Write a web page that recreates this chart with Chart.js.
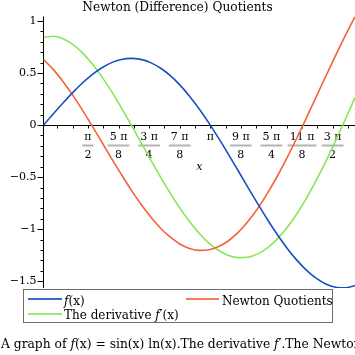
<!DOCTYPE html>
<html><head><meta charset="utf-8">
<script src="https://cdn.jsdelivr.net/npm/chart.js@4.4.0/dist/chart.umd.min.js"></script>
<style>
html,body{margin:0;padding:0;width:355px;height:355px;overflow:hidden;background:#fff;}
#wrap{position:relative;width:355px;height:355px;font-family:'DejaVu Serif',serif;color:#000;overflow:hidden;}
#c{position:absolute;left:0;top:0;}
#legendBox{position:absolute;left:23px;top:289px;width:310px;height:34px;box-sizing:border-box;border:1.5px solid #6e6e6e;}
.item{position:absolute;font-size:12px;line-height:14px;white-space:nowrap;}
.sw{position:absolute;height:2px;opacity:0.85;}
#caption{position:absolute;left:1px;top:337px;font-size:12.3px;line-height:14px;white-space:nowrap;}
</style></head>
<body><div id="wrap">
<canvas id="c" width="355" height="355"></canvas>
<div id="legendBox"></div>
<div class="sw" id="sw0" style="left:28px;top:298px;width:34px;"></div>
<div class="item" id="lb0" style="left:64px;top:294px;"><i>f</i>(x)</div>
<div class="sw" id="sw1" style="left:186px;top:298px;width:33px;"></div>
<div class="item" id="lb1" style="left:222px;top:294px;">Newton Quotients</div>
<div class="sw" id="sw2" style="left:28px;top:312.5px;width:34px;"></div>
<div class="item" id="lb2" style="left:64px;top:308px;">The derivative <i>f</i>′(x)</div>
<div id="caption">A graph of <i>f</i>(x) = sin(x) ln(x).The derivative <i>f</i>′.The Newton Quotients</div>
</div>
<script>
const xValues = [1,1.125,1.25,1.375,1.5,1.625,1.75,1.875,2,2.125,2.25,2.375,2.5,2.625,2.75,2.875,3,3.125,3.25,3.375,3.5,3.625,3.75,3.875,4,4.125,4.25,4.375,4.5,4.625,4.75,4.875,5];
const fValues = [0,0.106,0.212,0.312,0.404,0.485,0.551,0.600,0.630,0.641,0.631,0.600,0.548,0.477,0.386,0.278,0.155,0.019,-0.128,-0.281,-0.439,-0.599,-0.755,-0.907,-1.049,-1.180,-1.295,-1.393,-1.470,-1.526,-1.557,-1.563,-1.543];
const newtonValues = [0.630,0.535,0.419,0.288,0.144,-0.008,-0.165,-0.322,-0.475,-0.622,-0.758,-0.881,-0.988,-1.075,-1.142,-1.185,-1.204,-1.198,-1.167,-1.111,-1.031,-0.927,-0.802,-0.656,-0.494,-0.317,-0.129,0.067,0.268,0.469,0.668,0.860,1.043];
const derivValues = [0.841,0.853,0.830,0.775,0.694,0.588,0.463,0.321,0.166,0.003,-0.164,-0.331,-0.495,-0.651,-0.796,-0.927,-1.041,-1.134,-1.205,-1.252,-1.273,-1.269,-1.237,-1.179,-1.095,-0.987,-0.856,-0.704,-0.534,-0.349,-0.152,0.054,0.265];
const seriesLabels = ['f(x)','Newton Quotients','The derivative f′(x)'];
const seriesColors = ['#1650c0','#f2643a','#88e65a'];
const yTickValues = [-1.5,-1,-0.5,0,0.5,1];
const xTickEighths = [4,5,6,7,8,9,10,11,12];
const xTickNumerators = ['π','5 π','3 π','7 π','π','9 π','5 π','11 π','3 π'];
const xTickDenominators = ['2','8','4','8','','8','4','8','2'];
const xMinorSixteenths = [6,7,8,9,10,11,12,13,14,15,16,17,18,19,20,21,22,23,24,25];
const yMinorTenths = [-15,-14,-13,-12,-11,-10,-9,-8,-7,-6,-5,-4,-3,-2,-1,0,1,2,3,4,5,6,7,8,9,10];
const titleText = 'Newton (Difference) Quotients';
const xAxisLabel = 'x';

['sw0','sw1','sw2'].forEach((id,i)=>{document.getElementById(id).style.background = seriesColors[i];});

const pts = arr => xValues.map((x,i)=>({x:x, y:arr[i]}));

const axesPlugin = {
  id: 'mapleAxes',
  beforeDatasetsDraw(chart) {
    const {ctx, chartArea: a, scales: {x, y}} = chart;
    const y0 = Math.round(y.getPixelForValue(0)) + 0.5;
    ctx.save();
    ctx.strokeStyle = '#000';
    ctx.lineWidth = 1;
    ctx.beginPath();
    ctx.moveTo(a.left, y0); ctx.lineTo(a.right, y0);
    ctx.moveTo(a.left, a.top); ctx.lineTo(a.left, a.bottom);
    xMinorSixteenths.forEach(k => {
      const px = Math.round(x.getPixelForValue(k*Math.PI/16)) + 0.5;
      ctx.moveTo(px, y0); ctx.lineTo(px, y0 + 3);
    });
    yMinorTenths.forEach(t => {
      const py = Math.round(y.getPixelForValue(t/10)) + 0.5;
      const major = (t % 5 === 0);
      ctx.moveTo(a.left - (major ? 6 : 3), py); ctx.lineTo(a.left, py);
    });
    ctx.stroke();
    ctx.fillStyle = '#000';
    ctx.textAlign = 'center';
    ctx.textBaseline = 'middle';
    ctx.font = '11px "DejaVu Serif"';
    xTickEighths.forEach((k,i) => {
      const px = x.getPixelForValue(k*Math.PI/8);
      const num = xTickNumerators[i], den = xTickDenominators[i];
      ctx.fillStyle = '#000';
      ctx.fillText(num, px, y0 + 12);
      if (den) {
        const w = Math.max(ctx.measureText(num).width, ctx.measureText(den).width) + 4;
        ctx.fillStyle = '#b4b4b4';
        ctx.fillRect(px - w/2, y0 + 19, w, 2);
        ctx.fillStyle = '#000';
        ctx.fillText(den, px, y0 + 30);
      }
    });
    ctx.font = 'italic 11px "DejaVu Serif"';
    ctx.fillText(xAxisLabel, (a.left + a.right)/2, y0 + 42);
    ctx.restore();
  }
};

new Chart(document.getElementById('c'), {
  type: 'line',
  data: {
    datasets: [
      {label: seriesLabels[0], data: pts(fValues), borderColor: seriesColors[0]},
      {label: seriesLabels[1], data: pts(newtonValues), borderColor: seriesColors[1]},
      {label: seriesLabels[2], data: pts(derivValues), borderColor: seriesColors[2]}
    ]
  },
  options: {
    responsive: false,
    animation: false,
    devicePixelRatio: 1,
    layout: {padding: {top: 0, left: 0, right: 0, bottom: 67}},
    elements: {
      point: {radius: 0},
      line: {borderWidth: 1.6, cubicInterpolationMode: 'monotone', fill: false}
    },
    plugins: {
      legend: {display: false},
      tooltip: {enabled: false},
      title: {
        display: true, text: titleText, color: '#000',
        font: {family: 'DejaVu Serif', size: 12.2, weight: 'normal', lineHeight: 1.2},
        padding: {top: 1, bottom: 0.86}
      }
    },
    scales: {
      x: {type: 'linear', min: 1, max: 5, display: false},
      y: {
        type: 'linear', min: -1.565, max: 1.043,
        afterBuildTicks: s => { s.ticks = yTickValues.map(v => ({value: v})); },
        afterFit: s => { s.width = 43.5; },
        grid: {display: false, drawTicks: false},
        border: {display: false},
        ticks: {
          padding: 7, color: '#000',
          font: {family: 'DejaVu Serif', size: 11},
          callback: v => v < 0 ? '−' + Math.abs(v) : String(v)
        }
      }
    }
  },
  plugins: [axesPlugin]
});
</script>
</body></html>
